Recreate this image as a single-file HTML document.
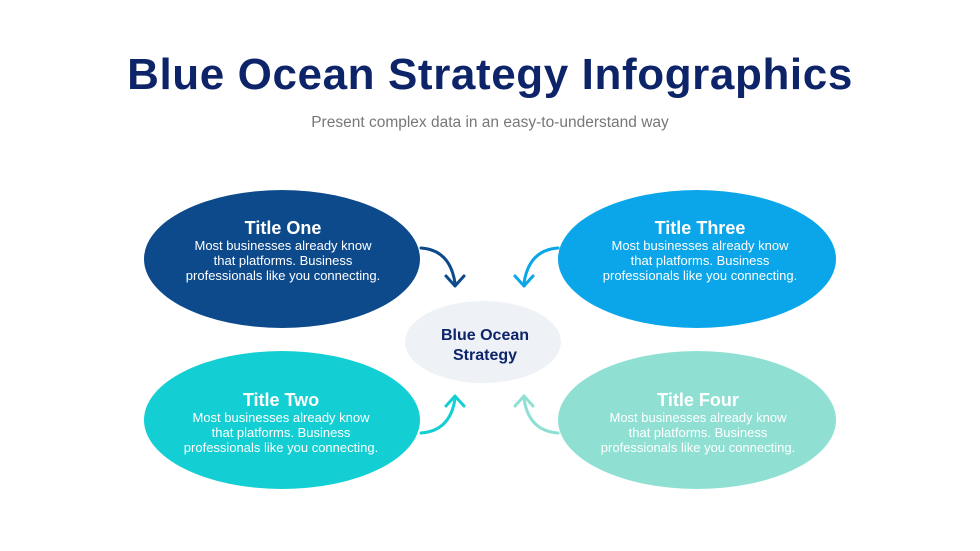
<!DOCTYPE html>
<html><head><style>
body{margin:0;width:980px;height:551px;background:#fff;overflow:hidden;font-family:"Liberation Sans",sans-serif;position:relative}
.t{position:absolute;left:0;width:980px;text-align:center}
</style></head><body>
<div class="t" style="top:50px;font-size:44px;font-weight:bold;color:#0d2469;letter-spacing:0.6px">Blue Ocean Strategy Infographics</div>
<div class="t" style="top:114px;font-size:15.5px;color:#777">Present complex data in an easy-to-understand way</div>
<svg width="980" height="551" style="position:absolute;left:0;top:0" font-family="Liberation Sans, sans-serif" text-anchor="middle">
<ellipse cx="282" cy="259" rx="138" ry="69" fill="#0d4a8c"/>
<ellipse cx="282" cy="420" rx="138" ry="69" fill="#13cfd3"/>
<ellipse cx="697" cy="259" rx="139" ry="69" fill="#0aa6e9"/>
<ellipse cx="697" cy="420" rx="139" ry="69" fill="#8fe0d3"/>
<ellipse cx="483" cy="342" rx="78" ry="41" fill="#eef2f7"/>
<g fill="none" stroke-width="3" stroke-linecap="round" stroke-linejoin="round">
<path d="M421 248 Q450 250 455 283 M446 276 L455 286 L464 276" stroke="#0d4a8c"/>
<path d="M558 248 Q529 250 524 283 M515 276 L524 286 L533 276" stroke="#0aa6e9"/>
<path d="M421 433 Q450 431 455 399 M446 406 L455 396 L464 406" stroke="#13cfd3"/>
<path d="M558 433 Q529 431 524 399 M515 406 L524 396 L533 406" stroke="#8fe0d3"/>
</g>
<g fill="#fff">
<text x="283" y="234" font-size="18" font-weight="bold">Title One</text>
<text x="283" y="250" font-size="13">Most businesses already know</text>
<text x="283" y="265" font-size="13">that platforms. Business</text>
<text x="283" y="280" font-size="13">professionals like you connecting.</text>
<text x="700" y="234" font-size="18" font-weight="bold">Title Three</text>
<text x="700" y="250" font-size="13">Most businesses already know</text>
<text x="700" y="265" font-size="13">that platforms. Business</text>
<text x="700" y="280" font-size="13">professionals like you connecting.</text>
<text x="281" y="406" font-size="18" font-weight="bold">Title Two</text>
<text x="281" y="422" font-size="13">Most businesses already know</text>
<text x="281" y="437" font-size="13">that platforms. Business</text>
<text x="281" y="452" font-size="13">professionals like you connecting.</text>
<text x="698" y="406" font-size="18" font-weight="bold">Title Four</text>
<text x="698" y="422" font-size="13">Most businesses already know</text>
<text x="698" y="437" font-size="13">that platforms. Business</text>
<text x="698" y="452" font-size="13">professionals like you connecting.</text>
</g>
<text x="485" y="340" font-size="16" font-weight="bold" fill="#0d2469">Blue Ocean</text>
<text x="485" y="360" font-size="16" font-weight="bold" fill="#0d2469">Strategy</text>
</svg>
</body></html>
